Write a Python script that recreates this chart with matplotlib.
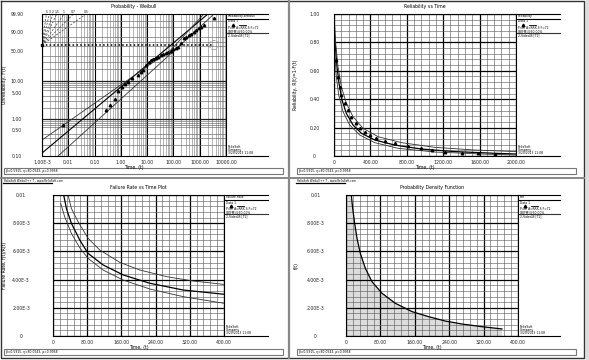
import matplotlib
matplotlib.use('Agg')
import matplotlib.pyplot as plt
import numpy as np

W, H = 589, 360

# ---- Probability - Weibull: data points (time, unreliability %) ----
prob_t = [0.00635, 0.281, 0.399, 0.621, 0.807, 1.15, 1.50, 1.95, 2.77, 4.31, 5.61, 6.69,
          8.71, 11.35, 13.5, 16.1, 21.0, 25.1, 32.7, 39.0, 50.7, 60.5, 78.9, 94.0, 122,
          146, 190, 248, 296, 385, 459, 598, 713, 929, 1107, 1443, 3483]
prob_f = [0.69, 1.74, 2.36, 3.42, 5.57, 7.09, 8.47, 9.54, 12.07, 14.36, 17.0, 19.07,
          25.08, 29.4, 32.6, 34.3, 36.0, 37.8, 41.6, 43.6, 45.6, 47.7, 49.9, 54.3, 56.5,
          58.8, 67.9, 78.8, 80.8, 84.6, 86.3, 89.5, 92.2, 94.4, 95.4, 96.9, 99.5]
fit_t = [0.001, 2051]
fit_f = [0.12, 99.9]
upper_t = [0.001, 78.9, 1443]
upper_f = [0.27, 52.0, 99.9]
lower_t = [0.00409, 94.0, 3483]
lower_f = [0.1, 47.7, 99.9]
slope_betas = [5, 3, 2, 1.5, 1, 0.7, 0.5]
prob_xlabels = ['1.00E-3', '0.01', '0.10', '1.00', '10.00', '100.00', '1000.00', '10000.00']
prob_yticks = [0.1, 0.5, 1, 5, 10, 50, 90, 99.9]
prob_ygrid = [0.1, 0.2, 0.3, 0.4, 0.5, 0.6, 0.7, 0.8, 0.9, 1, 2, 3, 4, 5, 6, 7, 8, 9,
              10, 20, 30, 40, 50, 60, 70, 80, 90, 95, 99, 99.9]

# ---- Reliability vs Time ----
rel_t = [0, 7.3, 18.3, 33.0, 55.0, 88.1, 135.8, 209.2, 300.9, 447.7, 667.9, 961.5, 1328.4, 1768.8, 2000]
rel_r = [1.0, 0.864, 0.746, 0.629, 0.512, 0.394, 0.300, 0.218, 0.160, 0.113, 0.077, 0.049, 0.031, 0.019, 0.014]
rel_up_t = [0, 14.7, 44.0, 80.7, 135.8, 209.2, 319.3, 484.4, 741.3, 1108.2, 1548.6, 2000]
rel_up_r = [1.0, 0.817, 0.629, 0.488, 0.371, 0.277, 0.195, 0.136, 0.094, 0.061, 0.042, 0.031]
rel_lo_t = [0, 3.7, 11.0, 25.7, 51.4, 99.1, 172.5, 282.6, 447.7, 704.6, 1108.2, 1622.0, 2000]
rel_lo_r = [1.0, 0.817, 0.700, 0.559, 0.430, 0.312, 0.218, 0.148, 0.094, 0.054, 0.028, 0.014, 0.007]
rel_pts_t = [25.7, 44.0, 62.4, 80.7, 117.4, 154.1, 190.8, 245.9, 282.6, 337.6, 392.7, 466.1,
             557.8, 667.9, 814.7, 961.5, 1071.6, 1218.3, 1401.8, 1585.3, 1768.8]
rel_pts_r = [0.676, 0.559, 0.488, 0.430, 0.371, 0.324, 0.277, 0.230, 0.195, 0.171, 0.148, 0.124,
             0.108, 0.089, 0.073, 0.056, 0.042, 0.031, 0.023, 0.019, 0.014]

# ---- Failure Rate vs Time ----
fr_up_t = [35.2, 43.0, 58.6, 82.0, 109.4, 156.3, 203.1, 265.6, 328.1, 400]
fr_up = [0.0100, 0.00905, 0.00811, 0.00693, 0.00610, 0.00522, 0.00468, 0.00421, 0.00390, 0.00366]
fr_t = [25.0, 31.3, 43.0, 62.5, 82.0, 117.2, 164.1, 226.6, 304.7, 400]
fr = [0.0100, 0.00905, 0.00799, 0.00681, 0.00586, 0.00504, 0.00433, 0.00374, 0.00326, 0.00296]
fr_lo_t = [18.0, 27.3, 43.0, 62.5, 82.0, 117.2, 164.1, 226.6, 304.7, 400]
fr_lo = [0.00941, 0.00846, 0.00728, 0.00626, 0.00551, 0.00468, 0.00397, 0.00333, 0.00279, 0.00232]

# ---- Probability Density Function ----
pdf_t = [1, 12.4, 15.5, 20.2, 25.6, 33.3, 45.0, 60.5, 83.7, 114.7, 153.5, 192.2, 231.0, 269.8, 316.3, 362.8]
pdf = [0.05, 0.0100, 0.00905, 0.00799, 0.00693, 0.00586, 0.00480, 0.00385, 0.00303, 0.00232,
       0.00173, 0.00137, 0.00106, 0.00085, 0.00066, 0.00050]

lin_xlabels_rel = ['0', '400.00', '800.00', '1200.00', '1600.00', '2000.00']
lin_ylabels_rel = ['0', '0.20', '0.40', '0.60', '0.80', '1.00']
lin_xlabels_fr = ['0', '80.00', '160.00', '240.00', '320.00', '400.00']
lin_ylabels_fr = ['0', '2.00E-3', '4.00E-3', '6.00E-3', '8.00E-3', '0.01']

FS = 3.3
LFS = 2.2

fig = plt.figure(figsize=(5.89, 3.6), dpi=100)
fig.patch.set_facecolor('white')

ov = fig.add_axes([0, 0, 1, 1])
ov.set_xlim(0, W)
ov.set_ylim(H, 0)
ov.axis('off')


def px_axes(x0, y0, x1, y1):
    return fig.add_axes([x0 / W, 1 - y1 / H, (x1 - x0) / W, (y1 - y0) / H])


def style(ax, ypad, ylab_x):
    for s in ax.spines.values():
        s.set_color('black')
        s.set_linewidth(0.8)
    ax.tick_params(which='both', length=0, labelsize=FS, colors='#222222')
    ax.tick_params(axis='x', pad=3)
    ax.tick_params(axis='y', pad=ypad)
    for lab in ax.get_yticklabels():
        lab.set_horizontalalignment('center')
    ax.yaxis.set_label_coords(ylab_x, 0.5, transform=ax.transAxes)
    ax.set_axisbelow(True)


def lin_grid(ax, xmax, ymax, xlabels, ylabels):
    ax.set_xlim(0, xmax)
    ax.set_ylim(0, ymax)
    ax.set_xticks(np.linspace(0, xmax, 6))
    ax.set_yticks(np.linspace(0, ymax, 6))
    ax.set_xticks(np.linspace(0, xmax, 26), minor=True)
    ax.set_yticks(np.linspace(0, ymax, 26), minor=True)
    ax.set_xticklabels(xlabels)
    ax.set_yticklabels(ylabels)
    ax.grid(which='minor', color='#555555', lw=0.4)
    ax.grid(which='major', color='black', lw=0.9)


def legend(x0, x1, ytop, ybot, title):
    ov.plot([x0, x1], [ytop, ytop], color='black', lw=0.8)
    ov.plot([x0, x1], [ytop + 5, ytop + 5], color='black', lw=0.8)
    ov.plot([x0, x1], [ytop + 19, ytop + 19], color='#333333', lw=0.8)
    ov.text(x0 + 2, ytop + 2.5, title, fontsize=LFS, va='center')
    ov.text(x0 + 2, ytop + 7.5, 'Data 1', fontsize=LFS, va='center')
    ov.plot([x0 + 7], [ytop + 10.5], marker='^', ms=2, color='black')
    ov.plot([x0 + 13, x0 + 20], [ytop + 10.5, ytop + 10.5], color='black', lw=0.6)
    ov.text(x0 + 2, ytop + 14, 'P=2, A=RRX-S F=72', fontsize=LFS, va='center')
    ov.text(x0 + 2, ytop + 17, 'CB[FM]@90.00%', fontsize=LFS, va='center')
    ov.text(x0 + 2, ytop + 21.5, '2-Sided-B [T1]', fontsize=LFS, va='center')
    ov.text(x0 + 2, ybot - 8.5, 'ReliaSoft', fontsize=LFS, va='center')
    ov.text(x0 + 2, ybot - 5.8, 'Company', fontsize=LFS, va='center')
    ov.text(x0 + 2, ybot - 3, '3/20/2013 11:08', fontsize=LFS, va='center')
    ov.plot([x0, x1], [ybot, ybot], color='black', lw=0.8)


# frames and separators
ov.plot([1, 584, 584, 1, 1], [1, 1, 358, 358, 1], color='#333333', lw=1.0)
ov.plot([289, 289], [1, 358], color='#888888', lw=1.6)
ov.plot([1, 584], [178.2, 178.2], color='#888888', lw=1.4)
ov.add_patch(plt.Rectangle((585.5, 0), 3.5, 360, color='#dddddd'))
for fx, fy in [(4, 168), (297, 168), (4, 349), (297, 349)]:
    ov.add_patch(plt.Rectangle((fx, fy), 279, 6, fill=False, ec='#777777', lw=0.8))
    ov.text(fx + 2, fy + 3, '\u03b2=0.5915, \u03b7=80.0543, \u03c1=0.9958', fontsize=LFS, va='center')
for hx in [4, 297]:
    ov.text(hx, 181.3, 'ReliaSoft Weibull++ 7 - www.ReliaSoft.com', fontsize=2.0, va='center')
    ov.plot([hx - 1, hx + 48], [183.0, 183.0], color='black', lw=0.9)

# ---------------- Probability - Weibull ----------------
def wfwd(F):
    F = np.clip(np.asarray(F, dtype=float), 1e-6, 99.999999)
    return np.log(-np.log(1 - F / 100.0))


def winv(y):
    return 100.0 * (1 - np.exp(-np.exp(y)))


ax1 = px_axes(42, 14, 226, 156)
ax1.set_xscale('log')
ax1.set_yscale('function', functions=(wfwd, winv))
ax1.set_xlim(1e-3, 1e4)
ax1.set_ylim(0.1, 99.9)
ax1.set_xticks([10.0 ** k for k in range(-3, 5)])
ax1.set_xticklabels(prob_xlabels)
ax1.set_yticks(prob_yticks)
ax1.set_yticklabels(['%.2f' % v for v in prob_yticks])
ax1.set_yticks(prob_ygrid, minor=True)
ax1.yaxis.set_minor_formatter(matplotlib.ticker.NullFormatter())
style(ax1, 18, (7 - 42) / 184)
ax1.grid(which='minor', axis='x', color='#8a8a8a', lw=0.45)
ax1.grid(which='major', axis='x', color='black', lw=0.8)
ax1.grid(which='minor', axis='y', color='#666666', lw=0.45)
for v in [1, 10]:
    ax1.axhline(v, color='#222222', lw=0.9, zorder=0.6)

ax1.plot(fit_t, fit_f, color='black', lw=0.8)
ax1.plot(upper_t, upper_f, color='#333333', lw=0.6)
ax1.plot(lower_t, lower_f, color='#333333', lw=0.6)
ax1.plot(prob_t, prob_f, ls='none', marker='^', ms=1.8, color='black')
ax1.plot([1e-3, 3483], [63.2, 63.2], color='black', lw=1.1, ls=(0, (1, 1.5)))
ax1.scatter([3483], [63.2], s=45, facecolors='none', edgecolors='#999999',
            linestyles='--', linewidths=0.6, clip_on=False, zorder=5)
ax1.plot([1e-3], [63.2], marker='s', ms=2, color='black', clip_on=False)
ytop = wfwd(99.9)
for b in slope_betas:
    tend = 1e-3 * np.exp(ytop / b)
    ax1.plot([1e-3, tend], [63.2, 99.9], color='#444444', lw=0.5, ls=(0, (3, 2)))
    ax1.text(tend, 99.9, str(b), fontsize=LFS, ha='center', va='bottom', clip_on=False)
ax1.set_title('Probability - Weibull', fontsize=FS, pad=4)
ax1.set_xlabel('Time, (t)', fontsize=FS, labelpad=0)
ax1.set_ylabel('Unreliability, F(t)', fontsize=FS)
legend(226, 268, 14, 156, 'Probability-Weibull')

# ---------------- Reliability vs Time ----------------
ax2 = px_axes(334, 14, 516, 156)
lin_grid(ax2, 2000, 1.0, lin_xlabels_rel, lin_ylabels_rel)
style(ax2, 14, (298 - 334) / 182)
ax2.plot(rel_t, rel_r, color='black', lw=0.9)
ax2.plot(rel_up_t, rel_up_r, color='#333333', lw=0.6)
ax2.plot(rel_lo_t, rel_lo_r, color='#333333', lw=0.6)
ax2.plot(rel_pts_t, rel_pts_r, ls='none', marker='^', ms=1.8, color='black')
ax2.set_title('Reliability vs Time', fontsize=FS, pad=4)
ax2.set_xlabel('Time, (t)', fontsize=FS, labelpad=0)
ax2.set_ylabel('Reliability, R(t)=1-F(t)', fontsize=FS)
legend(516, 560, 14, 156, 'Reliability')

# ---------------- Failure Rate vs Time ----------------
ax3 = px_axes(53, 195, 224, 336)
lin_grid(ax3, 400, 0.01, lin_xlabels_fr, lin_ylabels_fr)
style(ax3, 23, (7 - 53) / 171)
ax3.plot(fr_up_t, fr_up, color='#333333', lw=0.6)
ax3.plot(fr_t, fr, color='black', lw=0.9)
ax3.plot(fr_lo_t, fr_lo, color='#333333', lw=0.6)
ax3.set_title('Failure Rate vs Time Plot', fontsize=FS, pad=4)
ax3.set_xlabel('Time, (t)', fontsize=FS, labelpad=0)
ax3.set_ylabel('Failure Rate, f(t)/R(t)', fontsize=FS)
legend(224, 268, 195, 336, 'Failure Rate')

# ---------------- Probability Density Function ----------------
ax4 = px_axes(346, 195, 518, 336)
lin_grid(ax4, 400, 0.01, lin_xlabels_fr, lin_ylabels_fr)
style(ax4, 22, (299 - 346) / 172)
ax4.fill_between(pdf_t, pdf, 0, color='#dcdcdc', lw=0, zorder=0.3)
ax4.plot(pdf_t, pdf, color='black', lw=0.9)
ax4.set_title('Probability Density Function', fontsize=FS, pad=4)
ax4.set_xlabel('Time, (t)', fontsize=FS, labelpad=0)
ax4.set_ylabel('f(t)', fontsize=FS)
legend(518, 560, 195, 336, 'Pdf')

fig.savefig('out.png', dpi=100)
